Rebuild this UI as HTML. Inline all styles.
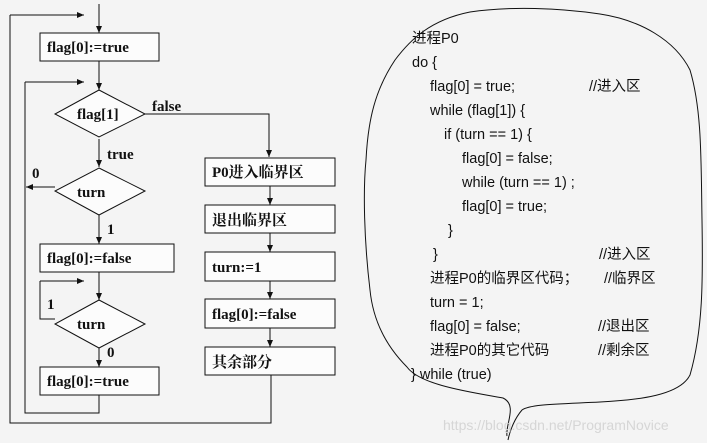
<!DOCTYPE html>
<html><head><meta charset="utf-8"><style>
html,body{margin:0;padding:0;background:#f4f4f4;}
svg{display:block;}
.b{font-family:"Liberation Serif","Noto Serif CJK SC",serif;font-weight:bold;font-size:15px;fill:#111;}
.c{font-family:"Liberation Sans","Noto Sans CJK SC",sans-serif;font-size:14.5px;fill:#111;}
</style></head><body>
<svg width="707" height="443" viewBox="0 0 707 443" xmlns="http://www.w3.org/2000/svg">
<defs><marker id="a" markerWidth="8" markerHeight="8" refX="7" refY="4" orient="auto" markerUnits="userSpaceOnUse"><path d="M0,1 L7,4 L0,7 z" fill="#111"/></marker></defs>
<rect width="707" height="443" fill="#f4f4f4"/>
<g stroke="#111" stroke-width="1" fill="none">
<line x1="99" y1="4" x2="99" y2="33" marker-end="url(#a)"/>
<polyline points="10,15 10,423 271,423 271,375"/>
<line x1="10" y1="15" x2="84" y2="15" marker-end="url(#a)"/>
<rect x="40" y="33" width="119" height="28" fill="#fcfcfc"/>
<line x1="99" y1="61" x2="99" y2="90" marker-end="url(#a)"/>
<polyline points="25,82 25,413 99,413 99,395"/>
<line x1="25" y1="82" x2="84" y2="82" marker-end="url(#a)"/>
<polygon points="99,90 145,114 99,137 55,114" fill="#fcfcfc"/>
<polyline points="145,114 269,114 269,157" marker-end="url(#a)"/>
<line x1="99" y1="139" x2="99" y2="167" marker-end="url(#a)"/>
<polygon points="99,168 145,191 99,215 55,191" fill="#fcfcfc"/>
<line x1="55" y1="187" x2="26" y2="187" marker-end="url(#a)"/>
<line x1="99" y1="215" x2="99" y2="244" marker-end="url(#a)"/>
<rect x="40" y="244" width="134" height="28" fill="#fcfcfc"/>
<line x1="99" y1="272" x2="99" y2="300" marker-end="url(#a)"/>
<polygon points="99,300 145,324 99,348 55,324" fill="#fcfcfc"/>
<polyline points="55,319 40,319 40,281"/>
<line x1="40" y1="281" x2="84" y2="281" marker-end="url(#a)"/>
<line x1="99" y1="348" x2="99" y2="367" marker-end="url(#a)"/>
<rect x="40" y="367" width="119" height="28" fill="#fcfcfc"/>
<rect x="205" y="158" width="130" height="28" fill="#fcfcfc"/>
<rect x="205" y="205" width="130" height="28" fill="#fcfcfc"/>
<rect x="205" y="252" width="130" height="29" fill="#fcfcfc"/>
<rect x="205" y="299" width="130" height="29" fill="#fcfcfc"/>
<rect x="205" y="347" width="130" height="28" fill="#fcfcfc"/>
<line x1="270" y1="186" x2="270" y2="205" marker-end="url(#a)"/>
<line x1="270" y1="233" x2="270" y2="252" marker-end="url(#a)"/>
<line x1="270" y1="281" x2="270" y2="299" marker-end="url(#a)"/>
<line x1="270" y1="328" x2="270" y2="347" marker-end="url(#a)"/>
<path d="M507,436 C505,425 518,405 503,398 C470,392 420,385 407,367 C385,345 373,320 370,290 C364,240 363,190 366,160 C368,120 375,90 395,60 C410,40 430,20 470,12 C510,6 560,8 600,14 C640,20 675,40 690,70 C702,110 701,160 702,220 C703,280 703,330 690,375 C680,395 640,400 600,402 C560,404 530,404 522,410 C515,418 510,430 508,440"/>
</g>
<g class="b">
<text x="47" y="52">flag[0]:=true</text>
<text x="77" y="119">flag[1]</text>
<text x="152" y="111">false</text>
<text x="107" y="159">true</text>
<text x="77" y="197">turn</text>
<text x="32" y="178">0</text>
<text x="107" y="234">1</text>
<text x="47" y="263">flag[0]:=false</text>
<text x="77" y="329">turn</text>
<text x="47" y="309">1</text>
<text x="107" y="357">0</text>
<text x="47" y="386">flag[0]:=true</text>
<text x="212" y="177">P0进入临界区</text>
<text x="212" y="225">退出临界区</text>
<text x="212" y="272">turn:=1</text>
<text x="212" y="319">flag[0]:=false</text>
<text x="212" y="367">其余部分</text>
</g>
<g class="c">
<text x="412" y="43">进程P0</text>
<text x="412" y="67">do {</text>
<text x="430" y="91">flag[0] = true;</text><text x="589" y="91">//进入区</text>
<text x="430" y="115">while (flag[1]) {</text>
<text x="444" y="139">if (turn == 1)  {</text>
<text x="462" y="163">flag[0] = false;</text>
<text x="462" y="187">while  (turn == 1) ;</text>
<text x="462" y="211">flag[0] = true;</text>
<text x="448" y="235">}</text>
<text x="433" y="259">}</text><text x="599" y="259">//进入区</text>
<text x="430" y="283">进程P0的临界区代码；</text><text x="604" y="283">//临界区</text>
<text x="430" y="307">turn = 1;</text>
<text x="430" y="331">flag[0] = false;</text><text x="598" y="331">//退出区</text>
<text x="430" y="355">进程P0的其它代码</text><text x="598" y="355">//剩余区</text>
<text x="411" y="379">} while (true)</text>
</g>
<text x="443" y="430" font-family="Liberation Sans,sans-serif" font-size="14" fill="#d6d6d6">https://blog.csdn.net/ProgramNovice</text>
</svg>
</body></html>
